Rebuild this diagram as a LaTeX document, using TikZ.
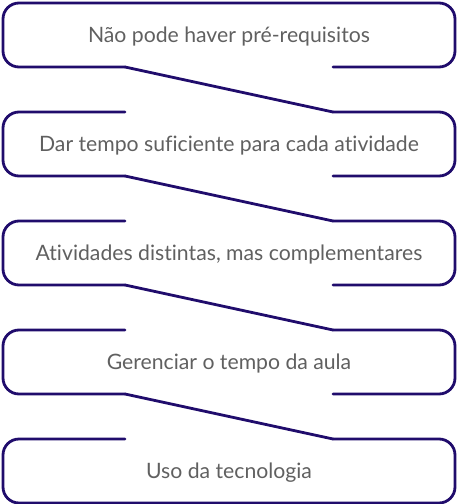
\documentclass[tikz,border=0pt]{standalone}
\usepackage{fontspec}
\setmainfont{Lato}[Ligatures=NoCommon]
\definecolor{navy}{RGB}{32,12,108}
\definecolor{txt}{RGB}{96,96,96}
\begin{document}
\begin{tikzpicture}[x=1pt,y=-1pt,
  outline/.style={draw=navy,line width=2.8pt,rounded corners=16pt,line cap=round,line join=round},
  link/.style={draw=navy,line width=2.8pt,line cap=round},
  lbl/.style={text=txt,font=\fontsize{21.2}{24}\selectfont,inner sep=0pt,anchor=base}]
\useasboundingbox (0,0) rectangle (458,504);
% labels
\node[lbl] (b1) at (229,42) {Não pode haver pré-requisitos};
\node[lbl] (b2) at (229,151) {Dar tempo suficiente para cada atividade};
\node[lbl] (b3) at (229,260) {Atividades distintas, mas complementares};
\node[lbl] (b4) at (229,369) {Gerenciar o tempo da aula};
\node[lbl] (b5) at (229,478) {Uso da tecnologia};
% gap coordinates
\foreach \i/\t in {1/3,2/112,3/221,4/330,5/439}{
  \coordinate (tl\i) at (125,\t);
  \coordinate (tr\i) at (333,\t);
  \coordinate (bl\i) at (125,\t+64);
  \coordinate (br\i) at (333,\t+64);
}
% box 1
\draw[outline] (br1) -- (455,67) -- (455,3) -- (3,3) -- (3,67) -- (bl1);
% middle boxes
\foreach \i/\t in {2/112,3/221,4/330}{
  \draw[outline] (tl\i) -- (3,\t) -- (3,\t+64) -- (bl\i);
  \draw[outline] (br\i) -- (455,\t+64) -- (455,\t) -- (tr\i);
}
% box 5
\draw[outline] (tl5) -- (3,439) -- (3,503) -- (455,503) -- (455,439) -- (tr5);
% connectors
\draw[link] (bl1) -- (tr2);
\draw[link] (bl2) -- (tr3);
\draw[link] (bl3) -- (tr4);
\draw[link] (bl4) -- (tr5);
\end{tikzpicture}
\end{document}
